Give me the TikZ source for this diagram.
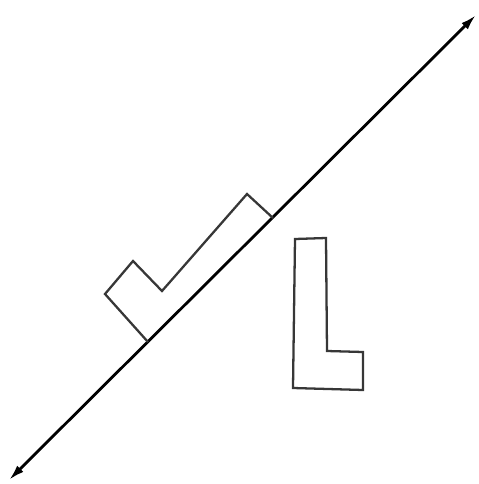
\documentclass[tikz,border=0pt]{standalone}
\usepackage{tikz}
\usepackage{xcolor}
\usetikzlibrary{arrows.meta}
\definecolor{shapegray}{RGB}{55,55,55}

\begin{document}
\begin{tikzpicture}[x=0.02cm, y=-0.02cm, >={Latex[length=9pt,width=5pt]}]
  \useasboundingbox (0,0) rectangle (478,484);
  \coordinate (lo) at (9,480);
  \coordinate (hi) at (476,15);
  \draw[<->, line width=1.6pt] (lo) -- (hi);
  % reflected L lying on the line
  \draw[shapegray, line width=1.3pt, line join=miter] (148,342) -- (105,294) -- (133,261) -- (162,291) -- (247,194) -- (273,218);
  % upright L
  \draw[shapegray, line width=1.3pt] (295,239) -- (326,238) -- (327,351) -- (363,352) -- (363,390) -- (293,388) -- cycle;
\end{tikzpicture}
\end{document}
